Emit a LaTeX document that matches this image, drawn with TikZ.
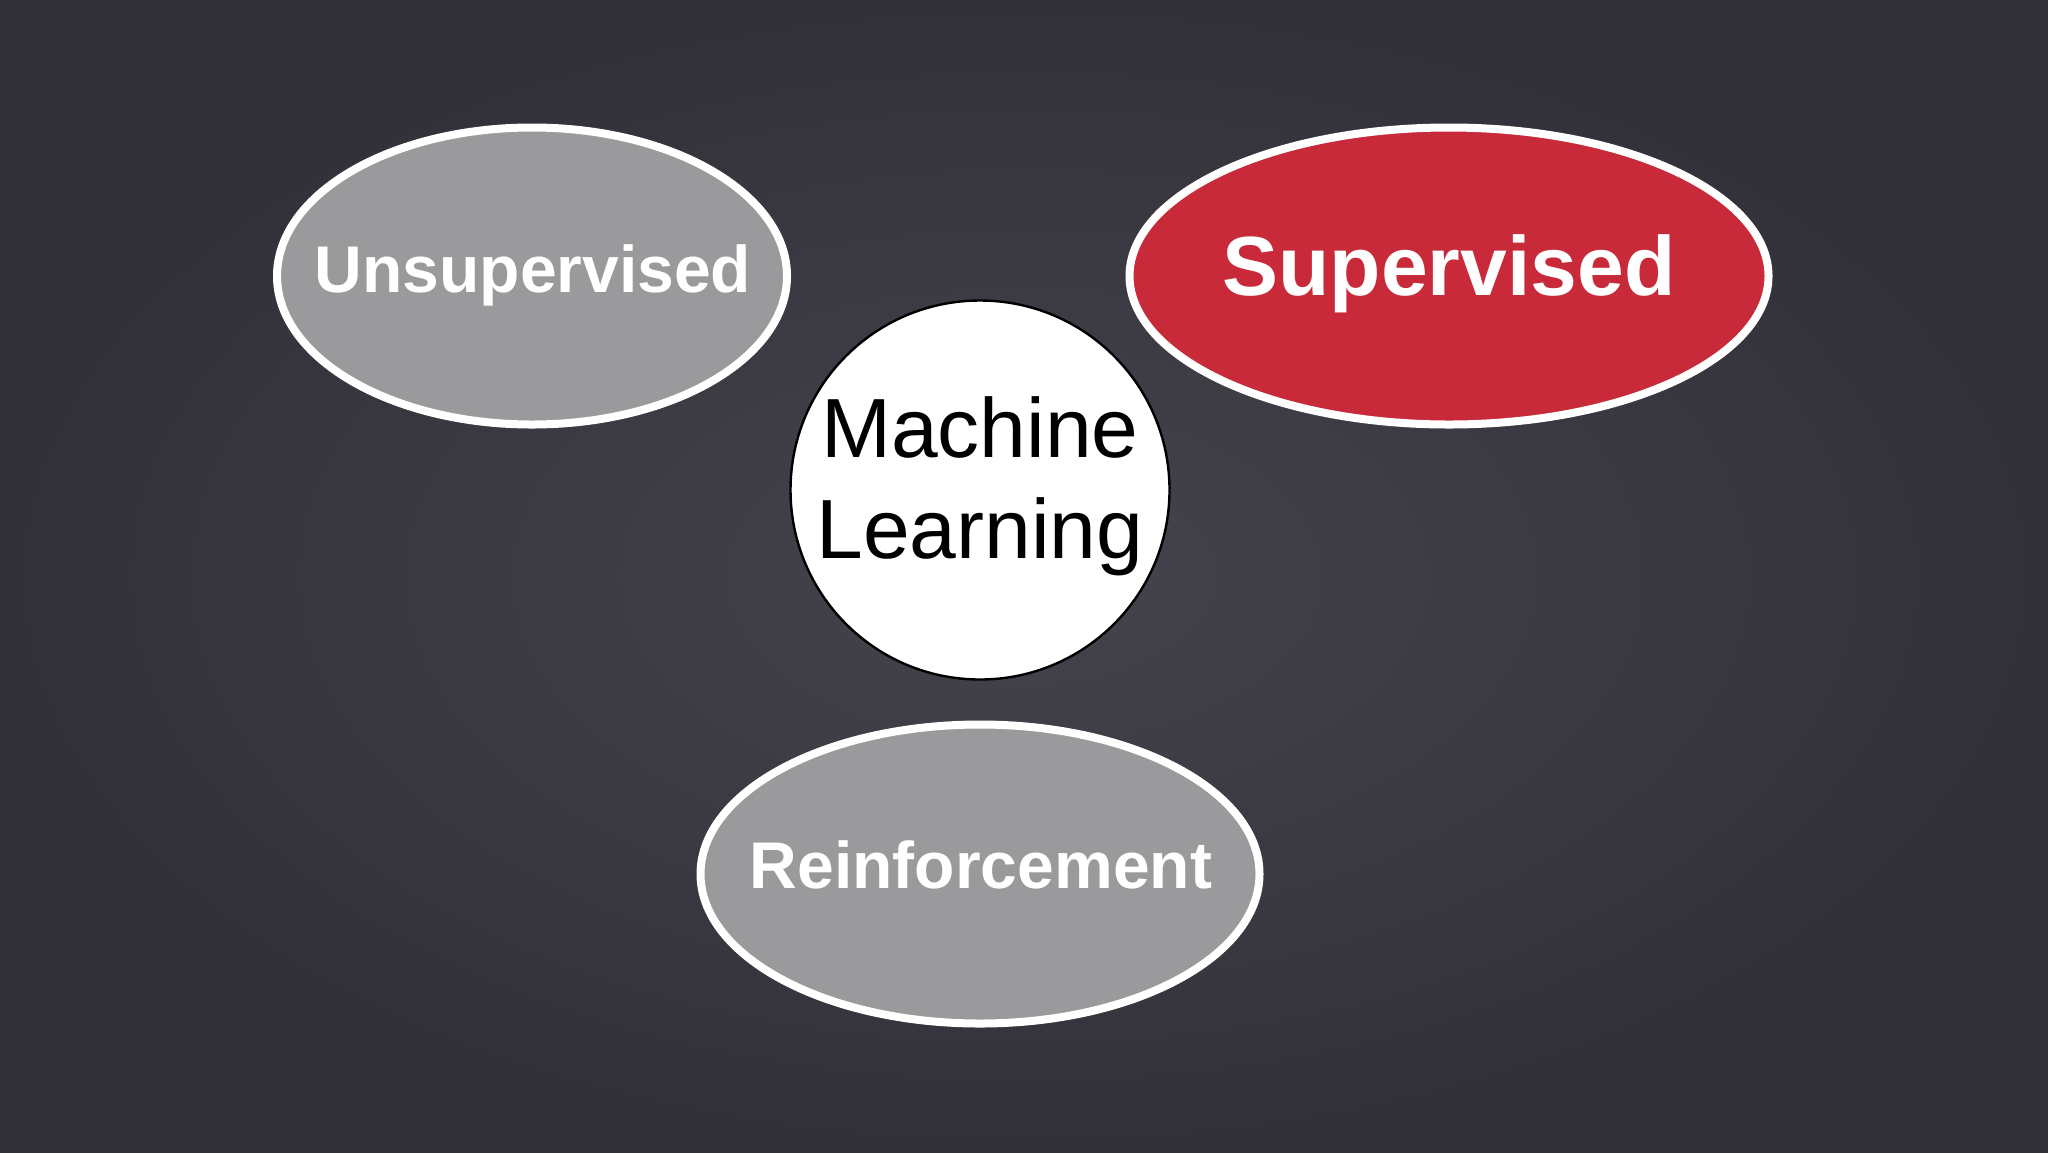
\documentclass[tikz,border=0pt]{standalone}
\usepackage{fontspec}
\setmainfont{Liberation Sans}
\usetikzlibrary{shapes.geometric}
\definecolor{board}{HTML}{323139}
\definecolor{boardlight}{HTML}{45444D}
\definecolor{greyfill}{HTML}{9A9A9C}
\definecolor{redfill}{HTML}{C82A39}
\tikzset{
  bubble/.style={ellipse, draw=white, line width=4pt, inner sep=0pt},
  bubbletext/.style={anchor=base, text=white, font=\bfseries},
  core/.style={circle, draw=black, fill=white, line width=1.2pt, inner sep=0pt},
}
\begin{document}
\begin{tikzpicture}[x=0.5pt, y=-0.5pt]
  \useasboundingbox (0,0) rectangle (2048,1152);
  \shade[inner color=boardlight, outer color=board] (0,0) rectangle (2048,1152);

  \node[bubble, fill=greyfill, minimum width=255pt, minimum height=148.5pt] (unsup) at (532,276) {};
  \node[bubble, fill=redfill, minimum width=319.5pt, minimum height=148.5pt] (sup) at (1449,276) {};
  \node[bubble, fill=greyfill, minimum width=279.5pt, minimum height=149.5pt] (reinf) at (980,874) {};
  \node[core, minimum size=189.5pt] (ml) at (980,490) {};

  \node[bubbletext, font=\bfseries\fontsize{33}{40}\selectfont] (unsupt) at (533,292) {Unsupervised};
  \node[bubbletext, font=\bfseries\fontsize{42}{50}\selectfont] (supt) at (1449,295) {Supervised};
  \node[bubbletext, font=\bfseries\fontsize{33}{40}\selectfont] (reinft) at (981,888) {Reinforcement};
  \node[anchor=base, align=center, text=black, font=\fontsize{42}{50.5}\selectfont] (mlt) at (980,558) {Machine\\Learning};
\end{tikzpicture}
\end{document}
